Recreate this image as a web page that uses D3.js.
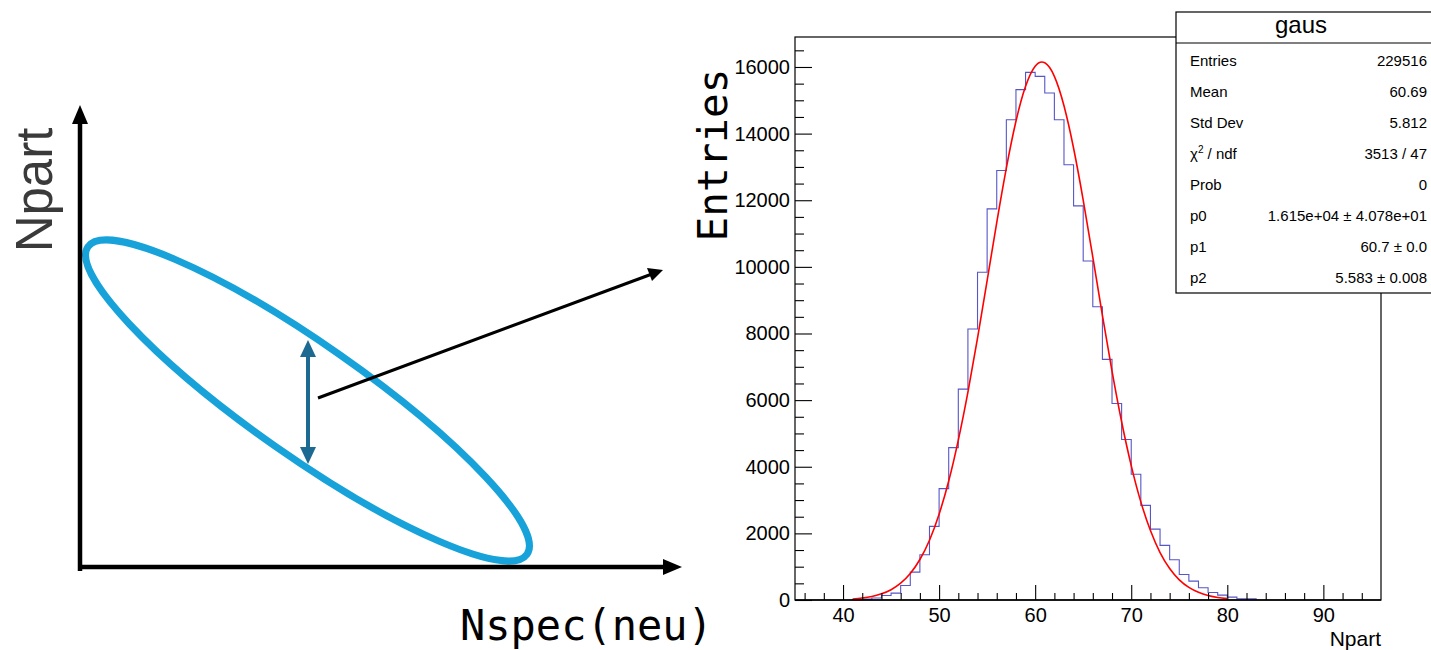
<!DOCTYPE html>
<html>
<head>
<meta charset="utf-8">
<script src="https://cdn.jsdelivr.net/npm/d3@7"></script>
<style>
  body { margin: 0; background: #fff; }
  svg { display: block; }
  text { font-family: "Liberation Sans", Helvetica, Arial, sans-serif; }
</style>
</head>
<body>
<svg id="chart" width="1431" height="650"></svg>
<script>
// histogram bins (low edge, width 1) and entries
const binLow = [41, 42, 43, 44, 45, 46, 47, 48, 49, 50, 51, 52, 53, 54, 55, 56, 57, 58, 59, 60, 61,
    62, 63, 64, 65, 66, 67, 68, 69, 70, 71, 72, 73, 74, 75, 76, 77, 78, 79, 80, 81, 82];
const binCounts = [10, 25, 60, 135, 205, 436, 836, 1359, 2210, 3343, 4575, 6329, 8133, 9838, 11741, 12893,
    14417, 15319, 15839, 15719, 15219, 14417, 13064, 11831, 10177, 8804, 7222, 5899, 4816, 3773, 2841,
    2129, 1639, 1208, 767, 566, 366, 225, 145, 85, 35, 35];

// red fit curve
const fitX = [41, 42, 43, 44, 45, 46, 47, 48, 49, 50, 51, 52, 53, 54, 55, 56, 57, 58, 59, 60, 61,
    62, 63, 64, 65, 66, 67, 68, 69, 70, 71, 72, 73, 74, 75, 76, 77, 78, 79, 80];
const fitY = [30, 60, 105, 185, 310, 505, 795, 1215, 1795, 2575, 3570, 4800, 6240, 7860, 9590, 11330,
    12965, 14370, 15420, 16025, 16125, 15720, 14835, 13560, 12005, 10295, 8545, 6870, 5350, 4035,
    2945, 2085, 1425, 945, 605, 380, 230, 135, 75, 40];

const yMajor = [0, 2000, 4000, 6000, 8000, 10000, 12000, 14000, 16000];
const xMajor = [40, 50, 60, 70, 80, 90];

const statLabels = ["Entries", "Mean", "Std Dev", "chi2", "Prob", "p0", "p1", "p2"];
const statValues = ["229516", "60.69", "5.812", "3513 / 47", "0", "1.615e+04 \u00b1 4.078e+01",
    "60.7 \u00b1 0.0", "5.583 \u00b1 0.008"];

const svg = d3.select("#chart");

// ---------- left: schematic ----------
const ink = "#000";
const g0 = svg.append("g");

g0.append("ellipse")
    .attr("cx", 307.5).attr("cy", 400.5)
    .attr("rx", 268).attr("ry", 56)
    .attr("transform", "rotate(35,307.5,400.5)")
    .attr("fill", "none")
    .attr("stroke", "#17a2d9")
    .attr("stroke-width", 7);

// axes with arrow heads
g0.append("line").attr("x1", 80).attr("y1", 571).attr("x2", 80).attr("y2", 118)
    .attr("stroke", ink).attr("stroke-width", 4.5);
g0.append("path").attr("d", "M80,105 L72,124 L88,124 Z").attr("fill", ink);
g0.append("line").attr("x1", 78).attr("y1", 567).attr("x2", 668).attr("y2", 567)
    .attr("stroke", ink).attr("stroke-width", 4.5);
g0.append("path").attr("d", "M682,567 L663,559 L663,575 Z").attr("fill", ink);

// width arrow
const dark = "#1c6991";
g0.append("line").attr("x1", 308).attr("y1", 350).attr("x2", 308).attr("y2", 455)
    .attr("stroke", dark).attr("stroke-width", 4);
g0.append("path").attr("d", "M308,340 L300,357 L316,357 Z").attr("fill", dark);
g0.append("path").attr("d", "M308,464 L300,447 L316,447 Z").attr("fill", dark);

// pointer to the histogram
g0.append("line").attr("x1", 318).attr("y1", 398).attr("x2", 652).attr("y2", 274)
    .attr("stroke", ink).attr("stroke-width", 3);
g0.append("path").attr("d", "M663,270 L647,268 L652,281 Z").attr("fill", ink);

g0.append("text")
    .attr("transform", "translate(52,190) rotate(-90)")
    .attr("text-anchor", "middle")
    .attr("font-size", 51)
    .attr("fill", "#3a3a3a")
    .text("Npart");

g0.append("text")
    .attr("x", 460).attr("y", 640)
    .style("font-family", "'DejaVu Sans Mono', monospace")
    .attr("font-size", 42)
    .text("Nspec(neu)");

// ---------- right: histogram ----------
const x = d3.scaleLinear().domain([35, 96]).range([795, 1381]);
const y = d3.scaleLinear().domain([0, 16900]).range([600, 37]);

const g1 = svg.append("g");

// steps
const stepPts = [[binLow[0], 0]];
binLow.forEach((b, i) => stepPts.push([b, binCounts[i]]));
stepPts.push([binLow[binLow.length - 1] + 1, binCounts[binCounts.length - 1]]);
stepPts.push([binLow[binLow.length - 1] + 1, 0]);

g1.append("path")
    .datum(stepPts)
    .attr("fill", "none")
    .attr("stroke", "#5656c8")
    .attr("stroke-width", 1.1)
    .attr("d", d3.line().x(d => x(d[0])).y(d => y(d[1])).curve(d3.curveStepAfter));

g1.append("path")
    .datum(fitX.map((v, i) => [v, fitY[i]]))
    .attr("fill", "none")
    .attr("stroke", "#ff0000")
    .attr("stroke-width", 1.6)
    .attr("d", d3.line().x(d => x(d[0])).y(d => y(d[1])).curve(d3.curveNatural));

// frame
g1.append("rect")
    .attr("x", x(35)).attr("y", y(16900))
    .attr("width", x(96) - x(35)).attr("height", y(0) - y(16900))
    .attr("fill", "none").attr("stroke", "#000").attr("stroke-width", 1.2);

// y axis
const yMinor = d3.range(500, 16900, 500).filter(v => v % 2000 !== 0);
g1.append("g")
    .attr("transform", `translate(${x(35)},0)`)
    .call(d3.axisLeft(y).tickValues(yMinor).tickSizeInner(-9).tickSizeOuter(0).tickFormat(""))
    .call(a => a.select(".domain").remove());
g1.append("g")
    .attr("transform", `translate(${x(35)},0)`)
    .call(d3.axisLeft(y).tickValues(yMajor).tickSizeInner(-17).tickSizeOuter(0).tickPadding(5).tickFormat(d3.format("d")))
    .call(a => a.select(".domain").remove())
    .call(a => a.selectAll("text").attr("font-size", 20).attr("fill", "#000")
        .style("font-family", "'Liberation Sans', Helvetica, Arial, sans-serif"));

// x axis
const xMinor = d3.range(36, 96, 2).filter(v => v % 10 !== 0);
g1.append("g")
    .attr("transform", `translate(0,${y(0)})`)
    .call(d3.axisBottom(x).tickValues(xMinor).tickSizeInner(-7).tickSizeOuter(0).tickFormat(""))
    .call(a => a.select(".domain").remove());
g1.append("g")
    .attr("transform", `translate(0,${y(0)})`)
    .call(d3.axisBottom(x).tickValues(xMajor).tickSizeInner(-15).tickSizeOuter(0).tickPadding(8))
    .call(a => a.select(".domain").remove())
    .call(a => a.selectAll("text").attr("font-size", 20).attr("fill", "#000")
        .style("font-family", "'Liberation Sans', Helvetica, Arial, sans-serif"));
g1.selectAll(".tick line").attr("stroke", "#000").attr("stroke-width", 1.1);

g1.append("line")
    .attr("x1", x(35)).attr("x2", x(96)).attr("y1", y(0)).attr("y2", y(0))
    .attr("stroke", "#000").attr("stroke-width", 1.4);

g1.append("text")
    .attr("x", x(96)).attr("y", 646)
    .attr("text-anchor", "end")
    .attr("font-size", 21)
    .text("Npart");

g1.append("text")
    .attr("transform", "translate(727,155) rotate(-90)")
    .attr("text-anchor", "middle")
    .style("font-family", "'DejaVu Sans Mono', monospace")
    .attr("font-size", 41)
    .text("Entries");

// stats box
const box = svg.append("g");
box.append("rect")
    .attr("x", 1176).attr("y", 12).attr("width", 270).attr("height", 281)
    .attr("fill", "#fff").attr("stroke", "#000").attr("stroke-width", 1.2);
box.append("line").attr("x1", 1176).attr("x2", 1431).attr("y1", 43).attr("y2", 43)
    .attr("stroke", "#000").attr("stroke-width", 1.2);
box.append("text")
    .attr("x", 1301).attr("y", 33)
    .attr("text-anchor", "middle")
    .attr("font-size", 24)
    .text("gaus");

const rows = box.selectAll("g.row")
    .data(statLabels)
    .enter().append("g")
    .attr("class", "row")
    .attr("transform", (d, i) => `translate(0,${66 + i * 31})`);

rows.append("text")
    .attr("x", 1190)
    .attr("font-size", 15)
    .each(function (d) {
        const t = d3.select(this);
        if (d === "chi2") {
            t.append("tspan").text("\u03c7");
            t.append("tspan").attr("font-size", 10).attr("dy", -6).text("2");
            t.append("tspan").attr("dy", 6).text(" / ndf");
        } else {
            t.text(d);
        }
    });

rows.append("text")
    .attr("x", 1427)
    .attr("text-anchor", "end")
    .attr("font-size", 15)
    .text((d, i) => statValues[i]);
</script>
</body>
</html>
